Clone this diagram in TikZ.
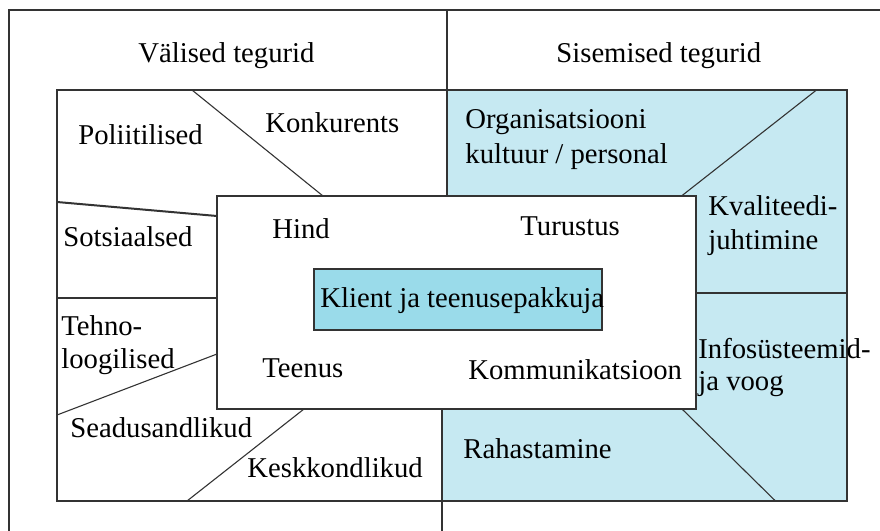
\documentclass[tikz,border=0pt]{standalone}
\usepackage{fontspec}
\setmainfont{Liberation Serif}
\definecolor{lineC}{HTML}{333333}
\definecolor{lightB}{HTML}{C6E9F2}
\definecolor{darkB}{HTML}{9ADBEA}
\begin{document}
\begin{tikzpicture}[x=0.5pt,y=-0.5pt,
  frame/.style={draw=lineC,line width=1pt},
  thin/.style={draw=lineC,line width=0.55pt},
  lbl/.style={anchor=base west,inner sep=0pt,font=\fontsize{14.35}{17.5}\selectfont}]
\useasboundingbox (0,0) rectangle (880,531);
% blue right half of inner frame
\fill[lightB] (446.5,90) -- (847,90) -- (847,501) -- (442,501) -- (442,409) -- (446.5,196) -- cycle;
% outer frame lines
\draw[frame] (9,531) -- (9,10) -- (880,10);
\draw[frame] (446.5,10) -- (446.5,196);
\draw[frame] (57,90) rectangle (847,501);
% left dividers
\draw[thin] (192,90) -- (323,196);
\draw[frame] (57,202) -- (217,216);
\draw[frame] (57,297.5) -- (217,297.5);
\draw[thin] (57,415) -- (217,354);
\draw[thin] (187,501) -- (304,409);
% right dividers
\draw[thin] (816.5,90) -- (681.5,196);
\draw[frame] (695.5,292.5) -- (847,292.5);
\draw[thin] (682,409) -- (775.5,501);
% center box
\draw[frame,fill=white] (217,196) rectangle (695.5,409);
\draw[frame,fill=darkB] (314,269) rectangle (601.5,330);
\draw[frame] (442,409) -- (442,531);
% texts
\node[lbl] (valised) at (138,62) {Välised tegurid};
\node[lbl] (sisemised) at (556,62) {Sisemised tegurid};
\node[lbl] (poliit) at (78,144) {Poliitilised};
\node[lbl] (konk) at (265,132) {Konkurents};
\node[lbl] (sots) at (63,246) {Sotsiaalsed};
\node[lbl] (hind) at (272,238) {Hind};
\node[lbl] (org1) at (465,128) {Organisatsiooni};
\node[lbl] (org2) at (465,163) {kultuur / personal};
\node[lbl] (turustus) at (520,235) {Turustus};
\node[lbl] (kval1) at (708,215) {Kvaliteedi-};
\node[lbl] (kval2) at (708,249) {juhtimine};
\node[lbl] (klient) at (320,307) {Klient ja teenusepakkuja};
\node[lbl] (tehno1) at (61,335) {Tehno-};
\node[lbl] (tehno2) at (61,368) {loogilised};
\node[lbl] (teenus) at (262,377) {Teenus};
\node[lbl] (komm) at (468,379) {Kommunikatsioon};
\node[lbl] (info1) at (698,358) {Infosüsteemid-};
\node[lbl] (info2) at (698,390) {ja voog};
\node[lbl] (seadus) at (70,437) {Seadusandlikud};
\node[lbl] (kesk) at (247,477) {Keskkondlikud};
\node[lbl] (raha) at (463,458) {Rahastamine};
\end{tikzpicture}
\end{document}
